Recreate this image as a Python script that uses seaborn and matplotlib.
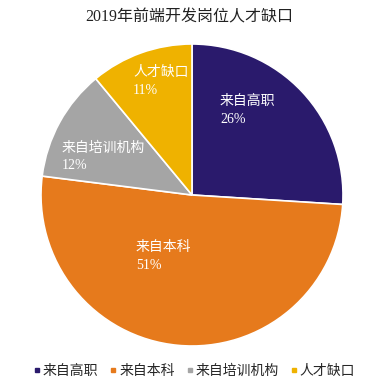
import numpy as np
import matplotlib
matplotlib.use("Agg")
import matplotlib.pyplot as plt
from matplotlib.lines import Line2D
import seaborn as sns

# ---- data ----
title = "2019年前端开发岗位人才缺口"
categories = ["来自高职", "来自本科", "来自培训机构", "人才缺口"]
shares = [26, 51, 12, 11]
colors = ["#2a1a6c", "#e67a1c", "#a5a5a5", "#efb200"]

# ---- layout (label placement relative to wedge mid-angle) ----
label_dist = [0.67, 0.45, 0.64, 0.78]
label_nudge = [13.4, -19.3, 5.5, -4.5]

sns.set_theme(style="white")
plt.rcParams["font.family"] = ["Liberation Serif", "Noto Sans CJK SC", "DejaVu Sans"]

fig = plt.figure(figsize=(3.79, 3.86), dpi=100)
cx, cy, r = 192, 195, 151
W, H = 379, 386
ax = fig.add_axes([(cx - r) / W, (H - cy - r) / H, 2 * r / W, 2 * r / H])

wedges, _ = ax.pie(shares, colors=colors, startangle=90, counterclock=False,
                   radius=1, wedgeprops=dict(edgecolor="white", linewidth=1.2))
ax.set_xlim(-1, 1)
ax.set_ylim(-1, 1)
ax.set_aspect("equal")
ax.axis("off")

for w, cat, val, d, nd in zip(wedges, categories, shares, label_dist, label_nudge):
    ang = np.deg2rad((w.theta1 + w.theta2) / 2 + nd)
    ax.text(d * np.cos(ang), d * np.sin(ang), f"{cat}\n{val}%", ha="center", va="center",
            multialignment="left", color="white", fontsize=10, linespacing=1.5,
            fontweight="light")

fig.text(0.5, 0.955, title, ha="center", va="center", fontsize=11.5, color="#222222",
         fontweight="light")

handles = [Line2D([0], [0], marker="s", linestyle="none", markersize=3.5,
                  markerfacecolor=c, markeredgecolor=c) for c in colors]
fig.legend(handles, categories, loc="center", bbox_to_anchor=(0.51, 0.038), ncol=4,
           frameon=False, prop=dict(size=10, weight="light"), handletextpad=0.0,
           columnspacing=0.7, handlelength=0.8)

fig.savefig("out.png", dpi=100)
